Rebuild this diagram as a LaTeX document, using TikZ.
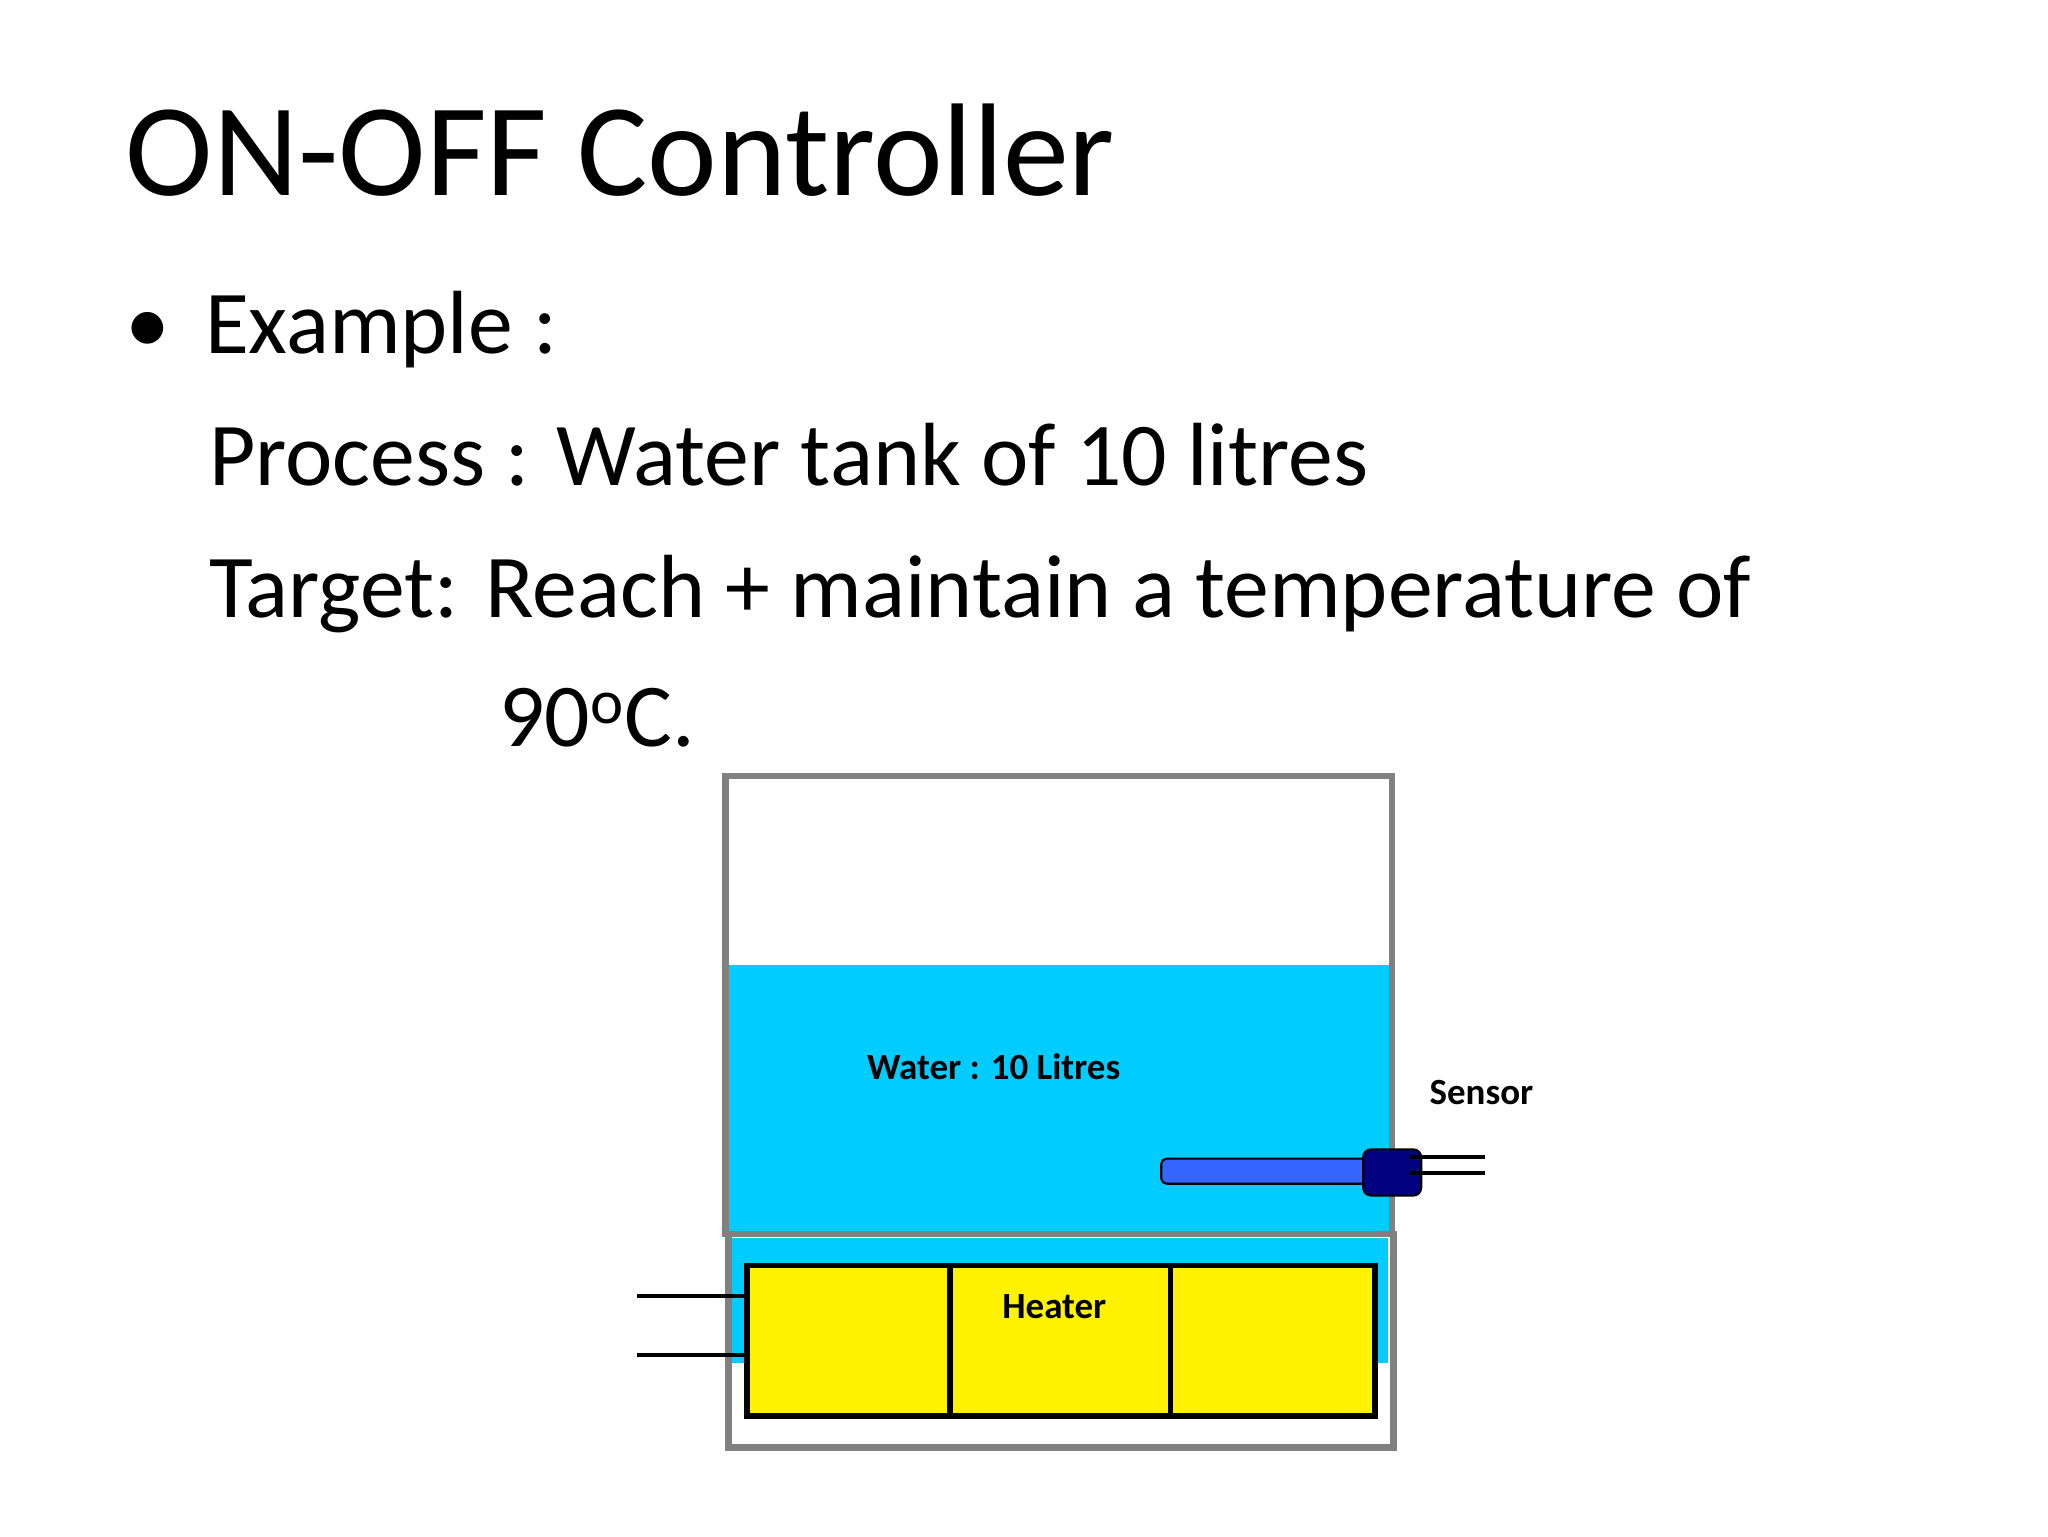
\documentclass[tikz,border=0pt]{standalone}
\usepackage{fontspec}
\setmainfont{Carlito}
\definecolor{water}{HTML}{00CCFF}
\definecolor{rod}{HTML}{3366FF}
\definecolor{cap}{HTML}{000080}
\definecolor{tankgray}{HTML}{808080}
\begin{document}
\begin{tikzpicture}[x=0.5pt,y=-0.5pt,
  txt/.style={anchor=base west,inner sep=0pt,font=\fontsize{34}{40}\selectfont},
  lbl/.style={inner sep=0pt,font=\fontsize{14}{16}\selectfont\bfseries},
  tank/.style={draw=tankgray,line width=2.5pt},
  wire/.style={line width=1.6pt}]
\useasboundingbox (0,0) rectangle (1552,1164);
\node[txt,font=\fontsize{50}{60}\selectfont] (title) at (95,148) {ON-OFF Controller};
\node[txt] (bul) at (95,268) {\textbullet};
\node[txt] (ex) at (155,268) {Example :};
\node[txt] (proc) at (158,368) {Process : Water tank of 10 litres};
\node[txt] (targ) at (158,468) {Target: Reach + maintain a temperature of};
\node[txt] (deg) at (378,566) {90\textsuperscript{o}C.};
% water
\fill[water] (552,731) rectangle (1053,933);
\fill[water] (555,938) rectangle (1052,1033);
% tank
\draw[tank] (550,588) rectangle (1055,935);
\draw[tank] (552,935) rectangle (1056,1097);
% heater
\draw[fill=yellow,line width=2pt] (566,959) rectangle (1042,1073);
\draw[line width=2pt] (720,959) -- (720,1073) (887,959) -- (887,1073);
\coordinate (hw1) at (483,982); \coordinate (hw2) at (483,1027);
\draw[wire] (hw1) -- (566,982);
\draw[wire] (hw2) -- (566,1027);
\node[lbl] (heater) at (799,990) {Heater};
\node[lbl] (wl) at (753,808) {Water : 10 Litres};
% sensor
\draw[fill=rod,line width=0.8pt,rounded corners=2pt] (880,878) rectangle (1040,897);
\draw[fill=cap,line width=0.8pt,rounded corners=3pt] (1033,871) rectangle (1077,906);
\draw[wire] (1068,877) -- (1125,877);
\draw[wire] (1068,889) -- (1125,889);
\node[lbl,anchor=west] (sens) at (1083,828) {Sensor};
\end{tikzpicture}
\end{document}
